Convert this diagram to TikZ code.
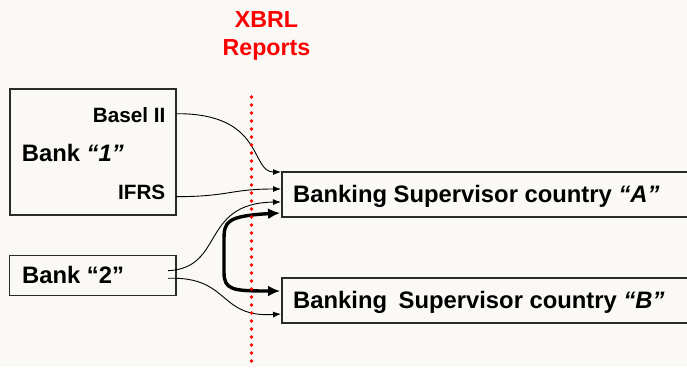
\documentclass[tikz,border=0pt]{standalone}
\usepackage{fontspec}
\setmainfont{Liberation Sans}
\usetikzlibrary{arrows.meta,calc}
\definecolor{bg}{HTML}{FBF9F5}
\definecolor{xred}{HTML}{FF0000}
\definecolor{boxline}{HTML}{2A2A2A}
\begin{document}
\begin{tikzpicture}[x=1pt,y=-1pt,
  box/.style={draw=boxline, line width=1.2pt, anchor=north west, inner sep=0pt, outer sep=0pt},
  biglabel/.style={font=\fontsize{23.8}{28}\selectfont\bfseries, inner sep=0pt},
  smalllabel/.style={font=\fontsize{20.7}{24}\selectfont\bfseries, inner sep=0pt},
  redlabel/.style={font=\fontsize{23.2}{28}\selectfont\bfseries, text=xred, inner sep=0pt},
  thinarrow/.style={line width=0.9pt, -{Latex[length=8pt,width=6pt]}},
  thickarrow/.style={line width=3.4pt, {Latex[length=12pt,width=11pt]}-{Latex[length=12pt,width=11pt]}},
  reddots/.style={xred, line width=3.6pt, line cap=round, dash pattern=on 0pt off 8pt}
]
\fill[bg] (0,0) rectangle (687,367);
\useasboundingbox (0,0) rectangle (687,367);

% title
\node[redlabel, anchor=base] (xbrl) at (266.5,27) {XBRL};
\node[redlabel, anchor=base] (reports) at (266.5,55) {Reports};

% boxes
\node[box, minimum width=166pt, minimum height=126pt] (bank1) at (10,89) {};
\node[box, minimum width=166.5pt, minimum height=39.5pt] (bank2) at (9.5,255.7) {};
\node[box, minimum width=410pt, minimum height=45pt] (supA) at (282,172) {};
\node[box, minimum width=410pt, minimum height=45pt] (supB) at (282,278) {};

% labels
\node[biglabel, anchor=base west] (b1txt) at (21.7,161.7) {Bank \textit{“1”}};
\node[smalllabel, anchor=base east] (basel) at (165.5,122.7) {Basel II};
\node[smalllabel, anchor=base east] (ifrs) at (165.5,199) {IFRS};
\node[biglabel, anchor=base west] (b2txt) at (22,283.3) {Bank “2”};
\node[biglabel, anchor=base west] (atxt) at (293,202.3) {Banking Supervisor country \textit{“A”}};
\node[biglabel, anchor=base west] (btxt) at (293,308) {Banking\hspace{5pt} Supervisor country \textit{“B”}};

% connectors
\draw[thinarrow] ($(bank1.north east)+(0,24.7)$) .. controls (265,113) and (250,172) .. ($(supA.north west)+(-1,0)$);
\draw[thinarrow] ($(bank1.north east)+(0,107.7)$) .. controls (230,196.5) and (230,189) .. ($(supA.north west)+(-1,17)$);
\draw[thinarrow] ($(bank2.north east)+(-8,15)$) .. controls (225,268) and (200,203) .. ($(supA.north west)+(-1,30)$);
\draw[thinarrow] ($(bank2.north east)+(-8,22.6)$) .. controls (230,276) and (218,318) .. ($(supB.north west)+(-1,36)$);
\draw[thickarrow] ($(supA.north west)+(-2,41)$) .. controls (226,216) and (224,222) .. (224,240) -- (224,272) .. controls (224,290) and (232,291) .. ($(supB.north west)+(-2,13)$);

% XBRL reports boundary
\draw[reddots] (251.5,97) -- (251.5,367);
\end{tikzpicture}
\end{document}
